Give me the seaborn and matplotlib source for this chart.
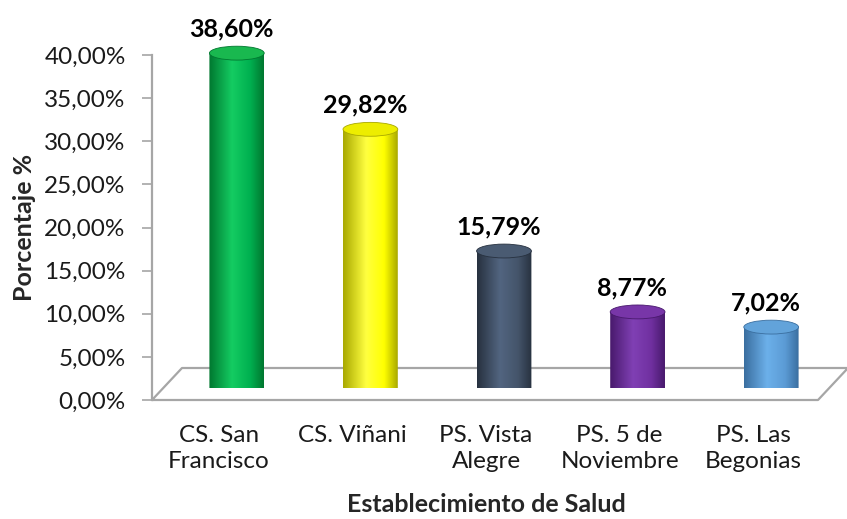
import numpy as np
import pandas as pd
import matplotlib
matplotlib.use("Agg")
import matplotlib.pyplot as plt
import seaborn as sns
from matplotlib.patches import Ellipse, PathPatch
from matplotlib.path import Path
from matplotlib.colors import LinearSegmentedColormap
from matplotlib.ticker import FuncFormatter

sns.set_theme(style="white")
plt.rcParams['font.family'] = ['Lato', 'DejaVu Sans']

# data
establecimientos = ["CS. San\nFrancisco", "CS. Viñani", "PS. Vista\nAlegre",
                    "PS. 5 de\nNoviembre", "PS. Las\nBegonias"]
porcentajes = [38.60, 29.82, 15.79, 8.77, 7.02]
y_ticks = [0, 5, 10, 15, 20, 25, 30, 35, 40]

# colours per bar: base, dark edge, highlight, top cap
base = ["#00B050", "#FFFF00", "#44546A", "#7030A0", "#5B9BD5"]
edge = ["#00772F", "#A8A800", "#27313F", "#48196C", "#3A6E9F"]
light = ["#14CC62", "#FFFF40", "#526580", "#8040B4", "#6CB0EA"]
cap = ["#19B84F", "#EDED00", "#4A5B72", "#7836A8", "#62A3DA"]

df = pd.DataFrame({"est": establecimientos, "pct": porcentajes})

W, H = 847, 519
fig = plt.figure(figsize=(W / 100, H / 100), dpi=100)


def px(x0, y0, x1, y1):
    return [x0 / W, 1 - y1 / H, (x1 - x0) / W, (y1 - y0) / H]


ax = fig.add_axes(px(152, 55, 820, 400))
ax2 = fig.add_axes(px(170, 41, 838, 388))  # bars sit a bit "deeper" in the 3D floor

grey = "#A6A6A6"

# floor of the 3D box
floor_x = [152, 818, 848, 182, 152]
floor_y = [400, 400, 368, 368, 400]
fig.add_artist(plt.Line2D([x / W for x in floor_x], [1 - y / H for y in floor_y],
                          color=grey, lw=1.6, zorder=0))

sns.barplot(data=df, x="est", y="pct", hue="est", palette=base, width=0.41,
            legend=False, ax=ax2, saturation=1)

eh = 1.6  # cap height in data units
for i, p in enumerate(list(ax2.patches)):
    x0, w, h = p.get_x(), p.get_width(), p.get_height()
    cx = x0 + w / 2
    t = np.linspace(np.pi, 2 * np.pi, 40)
    arc = np.column_stack([cx + w / 2 * np.cos(t), eh / 2 * np.sin(t)])
    verts = np.vstack([[x0, h], arc, [x0 + w, h], [x0, h]])
    codes = [Path.MOVETO] + [Path.LINETO] * (len(verts) - 2) + [Path.CLOSEPOLY]
    body = PathPatch(Path(verts, codes), facecolor="none", edgecolor="none")
    ax2.add_patch(body)
    p.set_visible(False)
    cmap = LinearSegmentedColormap.from_list(
        "c%d" % i, [(0, edge[i]), (0.42, light[i]), (0.75, base[i]), (1, edge[i])])
    grad = np.linspace(0, 1, 256).reshape(1, -1)
    im = ax2.imshow(grad, cmap=cmap, extent=[x0, x0 + w, -eh, h], aspect="auto",
                    zorder=2)
    im.set_clip_path(body)
    ax2.add_patch(Ellipse((cx, h), w, eh, facecolor=cap[i], edgecolor=edge[i],
                          lw=0.6, zorder=3))
    ax2.annotate(f"{porcentajes[i]:.2f}%".replace(".", ","), (cx, h),
                 xytext=(-4, 9), textcoords="offset points", ha="center",
                 va="bottom", fontsize=18, fontweight="bold", color="black")

for a in (ax, ax2):
    a.set_xlim(-0.5, 4.5)
    a.set_ylim(0, 40)
ax2.axis("off")
ax2.patch.set_visible(False)

ax.set_yticks(y_ticks)
ax.yaxis.set_major_formatter(FuncFormatter(lambda v, _: f"{v:.2f}%".replace(".", ",")))
ax.set_xticks(range(len(establecimientos)))
ax.set_xticklabels(establecimientos, fontsize=17.5, linespacing=1.3, color="#1a1a1a")
ax.tick_params(axis="y", labelsize=17.5, left=True, length=7, width=1.2,
               color=grey, pad=12, labelcolor="#1a1a1a")
ax.tick_params(axis="x", bottom=False, pad=12)
for s in ["top", "right", "bottom"]:
    ax.spines[s].set_visible(False)
ax.spines["left"].set_color(grey)
ax.spines["left"].set_linewidth(1.6)
ax.patch.set_visible(False)

ax.set_ylabel("Porcentaje %", fontsize=18, fontweight="bold")
ax.yaxis.set_label_coords(-0.173, 0.5)
ax.set_xlabel("Establecimiento de Salud", fontsize=18, fontweight="bold")
ax.xaxis.set_label_coords(0.5, -0.27)

fig.savefig("out.png", dpi=100)
